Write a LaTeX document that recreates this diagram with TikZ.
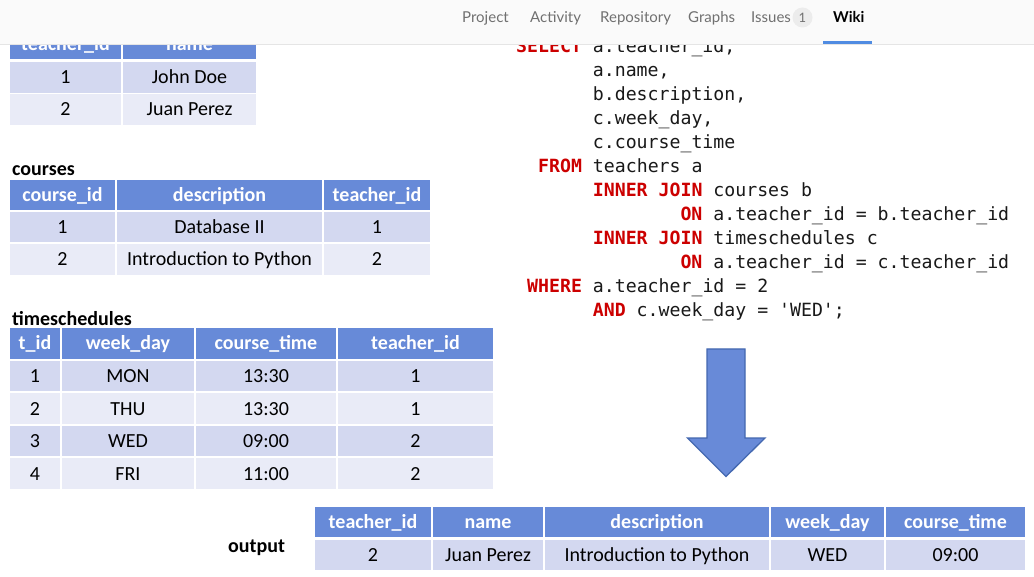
\documentclass[tikz,border=0pt]{standalone}
\usepackage{fontspec}
\setmainfont{Carlito}
\newfontfamily\codefont{DejaVu Sans Mono}
\newfontfamily\navfont{Lato}
\definecolor{hdrc}{RGB}{103,138,216}
\definecolor{rowA}{RGB}{211,216,240}
\definecolor{rowB}{RGB}{233,235,247}
\definecolor{kwred}{RGB}{204,0,0}
\definecolor{codetext}{RGB}{25,25,25}
\definecolor{navbg}{RGB}{250,250,250}
\definecolor{navline}{RGB}{229,229,229}
\definecolor{navgray}{RGB}{112,112,112}
\definecolor{badge}{RGB}{236,236,236}
\definecolor{wikiblue}{RGB}{80,140,226}
\definecolor{arrfill}{RGB}{104,138,216}
\definecolor{arrline}{RGB}{68,104,176}
\newcommand\tcell[7]{%
  \pgfmathsetmacro\tcw{#5-#3}\pgfmathsetmacro\tch{#6-#4}%
  \node[#2, minimum width=\tcw pt, minimum height=\tch pt] (#1) at ({(#3+#5)/2},{(#4+#6)/2}) {#7};}
\newcommand\kw[1]{\textcolor{kwred}{\bfseries #1}}
\tikzset{
  cellbase/.style={rectangle, inner sep=0pt, text height=14pt, text depth=1pt, font=\fontsize{20}{22}\selectfont},
  hdr/.style={cellbase, fill=hdrc, text=white, font=\bfseries\fontsize{20}{22}\selectfont},
  ra/.style={cellbase, fill=rowA, text=black},
  rb/.style={cellbase, fill=rowB, text=black},
  tlabel/.style={inner sep=0pt, anchor=base west, font=\bfseries\fontsize{20}{22}\selectfont, text=black},
  code/.style={inner sep=0pt, anchor=base west, font=\codefont\fontsize{18.2}{20}\selectfont, text=codetext},
  nav/.style={inner sep=0pt, anchor=base west, font=\navfont\fontsize{15}{18}\selectfont, text=navgray},
  bigarrow/.style={fill=arrfill, draw=arrline, line width=1.3pt, line join=miter}
}
\begin{document}
\begin{tikzpicture}[x=1pt,y=-1pt]
\useasboundingbox (0,0) rectangle (1034,577);
\fill[white] (0,0) rectangle (1034,577);

% teachers table
\tcell{tH1}{hdr}{10}{29}{121}{59}{teacher\_id}
\tcell{tH2}{hdr}{123}{29}{256}{59}{name}
\tcell{t11}{ra}{10}{62}{121}{93}{1}
\tcell{t12}{ra}{123}{62}{256}{93}{John Doe}
\tcell{t21}{rb}{10}{94}{121}{125}{2}
\tcell{t22}{rb}{123}{94}{256}{125}{Juan Perez}

% courses table
\node[tlabel] (lc) at (12,176) {courses};
\tcell{cH1}{hdr}{10}{180}{115}{210}{course\_id}
\tcell{cH2}{hdr}{117}{180}{322}{210}{description}
\tcell{cH3}{hdr}{324}{180}{430}{210}{teacher\_id}
\tcell{c11}{ra}{10}{212}{115}{242}{1}
\tcell{c12}{ra}{117}{212}{322}{242}{Database II}
\tcell{c13}{ra}{324}{212}{430}{242}{1}
\tcell{c21}{rb}{10}{244}{115}{275}{2}
\tcell{c22}{rb}{117}{244}{322}{275}{Introduction to Python}
\tcell{c23}{rb}{324}{244}{430}{275}{2}

% timeschedules table
\node[tlabel] (ls) at (12,326) {timeschedules};
\tcell{sH1}{hdr}{10}{328}{60}{359}{t\_id}
\tcell{sH2}{hdr}{62}{328}{194}{359}{week\_day}
\tcell{sH3}{hdr}{196}{328}{336}{359}{course\_time}
\tcell{sH4}{hdr}{338}{328}{493}{359}{teacher\_id}
\tcell{s11}{ra}{10}{361}{60}{391}{1}
\tcell{s12}{ra}{62}{361}{194}{391}{MON}
\tcell{s13}{ra}{196}{361}{336}{391}{13:30}
\tcell{s14}{ra}{338}{361}{493}{391}{1}
\tcell{s21}{rb}{10}{393}{60}{424}{2}
\tcell{s22}{rb}{62}{393}{194}{424}{THU}
\tcell{s23}{rb}{196}{393}{336}{424}{13:30}
\tcell{s24}{rb}{338}{393}{493}{424}{1}
\tcell{s31}{ra}{10}{426}{60}{456}{3}
\tcell{s32}{ra}{62}{426}{194}{456}{WED}
\tcell{s33}{ra}{196}{426}{336}{456}{09:00}
\tcell{s34}{ra}{338}{426}{493}{456}{2}
\tcell{s41}{rb}{10}{458}{60}{489}{4}
\tcell{s42}{rb}{62}{458}{194}{489}{FRI}
\tcell{s43}{rb}{196}{458}{336}{489}{11:00}
\tcell{s44}{rb}{338}{458}{493}{489}{2}

% output table
\node[tlabel] (lo) at (228,552) {output};
\tcell{oH1}{hdr}{315}{507}{431}{537}{teacher\_id}
\tcell{oH2}{hdr}{433}{507}{543}{537}{name}
\tcell{oH3}{hdr}{545}{507}{769}{537}{description}
\tcell{oH4}{hdr}{771}{507}{884}{537}{week\_day}
\tcell{oH5}{hdr}{886}{507}{1025}{537}{course\_time}
\tcell{o11}{ra}{315}{540}{431}{570}{2}
\tcell{o12}{ra}{433}{540}{543}{570}{Juan Perez}
\tcell{o13}{ra}{545}{540}{769}{570}{Introduction to Python}
\tcell{o14}{ra}{771}{540}{884}{570}{WED}
\tcell{o15}{ra}{886}{540}{1025}{570}{09:00}

% SQL code
\node[code] (q1)  at (516.0,52.5)  {\kw{SELECT} a.teacher\_id,};
\node[code] (q2)  at (592.7,76.5)  {a.name,};
\node[code] (q3)  at (592.7,100.5) {b.description,};
\node[code] (q4)  at (592.7,124.5) {c.week\_day,};
\node[code] (q5)  at (592.7,148.5) {c.course\_time};
\node[code] (q6)  at (538.0,172.5) {\kw{FROM} teachers a};
\node[code] (q7)  at (592.7,196.5) {\kw{INNER JOIN} courses b};
\node[code] (q8)  at (680.3,220.5) {\kw{ON} a.teacher\_id = b.teacher\_id};
\node[code] (q9)  at (592.7,244.5) {\kw{INNER JOIN} timeschedules c};
\node[code] (q10) at (680.3,268.5) {\kw{ON} a.teacher\_id = c.teacher\_id};
\node[code] (q11) at (527.0,292.5) {\kw{WHERE} a.teacher\_id = 2};
\node[code] (q12) at (592.7,316.5) {\kw{AND} c.week\_day = 'WED';};

% block arrow
\draw[bigarrow] (707,349) -- (745,349) -- (745,438) -- (765,438) -- (726,476.5) -- (687.5,438) -- (707,438) -- cycle;

% navigation bar (drawn on top)
\fill[navbg] (0,0) rectangle (1034,44);
\draw[navline, line width=1pt] (0,44.5) -- (1034,44.5);
\node[nav] (n1) at (462,23) {Project};
\node[nav] (n2) at (530,23) {Activity};
\node[nav] (n3) at (600,23) {Repository};
\node[nav] (n4) at (688,23) {Graphs};
\node[nav] (n5) at (751,23) {Issues};
\node[circle, fill=badge, minimum size=20pt, inner sep=0pt, text=navgray, font=\navfont\fontsize{13}{15}\selectfont] (n6) at (802.5,17.5) {1};
\node[nav, text=black, font=\navfont\bfseries\fontsize{15}{18}\selectfont] (n7) at (833,23) {Wiki};
\fill[wikiblue] (823,41.5) rectangle (872,44.5);
\end{tikzpicture}
\end{document}
